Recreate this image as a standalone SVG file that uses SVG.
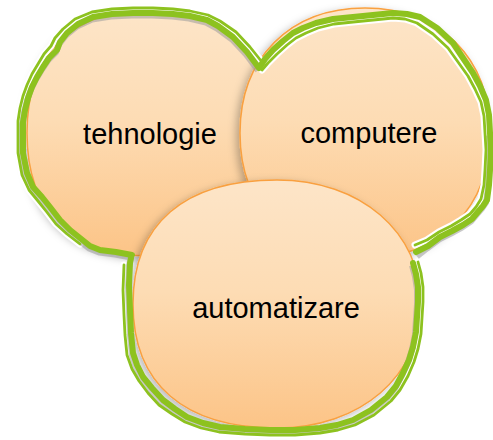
<svg xmlns="http://www.w3.org/2000/svg" width="493" height="440" viewBox="0 0 493 440">
<style>
.c{fill:url(#g);stroke:#F9A03F;stroke-width:1.5;filter:url(#sh)}
.t{font-family:"Liberation Sans",Arial,sans-serif;font-size:29px;fill:#000;text-anchor:middle}
.thick{fill:none;stroke:#8DC21F;stroke-width:6;stroke-linejoin:round;stroke-linecap:round}
.thin{fill:none;stroke:#8DC21F;stroke-width:2.8;stroke-linejoin:round;stroke-linecap:round}
.case{fill:none;stroke:#fff;stroke-width:7;stroke-linejoin:round;stroke-linecap:round}
.shade{fill:none;stroke:#9a9a9a;stroke-width:6;stroke-opacity:.55;stroke-linejoin:round}
</style>
<defs>
<linearGradient id="g" x1="0" y1="0" x2="0" y2="1">
<stop offset="0" stop-color="#FDE5C8"/>
<stop offset="0.45" stop-color="#FDDCB4"/>
<stop offset="1" stop-color="#FCC487"/>
</linearGradient>
<filter id="sh" x="-10%" y="-10%" width="120%" height="120%">
<feDropShadow dx="-3" dy="3" stdDeviation="4" flood-color="#000" flood-opacity="0.28"/>
</filter>
</defs>
<rect width="493" height="440" fill="#fff"/>
<g id="node-tehnologie">
<path class="c" d="M 273,133 C 273,211.7 228.7,256 150,256 C 71.3,256 27,211.7 27,133 C 27,54.3 71.3,10 150,10 C 228.7,10 273,54.3 273,133 Z"/>
<text class="t" x="150" y="144">tehnologie</text>
</g>
<g id="node-computere">
<path class="c" d="M 490,133 C 490,208 440,258 365,258 C 290,258 240,208 240,133 C 240,58 290,8 365,8 C 440,8 490,58 490,133 Z"/>
<text class="t" x="369" y="143">computere</text>
</g>
<g id="node-automatizare">
<path class="c" d="M 421,304 C 421,376 360.5,428 277,428 C 184,428 133,384 133,304 C 133,224 184,180 277,180 C 360.5,180 421,232 421,304 Z"/>
<text class="t" x="276" y="318">automatizare</text>
</g>
<g id="outline">
<path class="case" d="M 262,62 L 250,47 L 236,32 L 220,21 L 208,15 L 190,11 L 173,9 L 153,8 L 133,8 L 112,9 L 92,12 L 75,19 L 63,29 L 55,38 L 51,46 L 44,54 L 38,64 L 32,74 L 27,85 L 23,96 L 20,108 L 18,121 L 18,133 L 18,153 L 20,164 L 22,175 L 29,190 L 38,201 L 46,211 L 56,224 L 67,234 L 80,244 M 124,265 L 123,290 L 124,315 L 125,335 L 127,355 L 132,369 L 139,381 L 148,393 L 159,405 L 172,414 L 185,422 L 201,428 L 219,432 L 245,434 L 270,435 L 295,435 L 320,433 L 338,430 L 355,425 L 374,415 L 391,401 L 400,390 L 408,376 L 414,362 L 418,349 L 421,334 L 422,318 L 423,302 L 423,287 L 421,273 L 418,262 M 415,245 L 427,240 L 439,232 L 451,226 L 461,220 L 470,214 L 476,207 L 481,199 L 484,185 L 485,170 L 486,150 L 485,133 L 484,116 L 481,102 L 475,89 L 468,76 L 458,62 L 448,48 L 433,34 L 417,23 L 405,19 L 393,18 L 373,20 L 353,22 L 334,24 L 318,28 L 306,33 L 296,38 L 287,45 L 277,54 L 268,63 L 262,70"/>
<path class="shade" transform="translate(-1,2.5)" d="M 259,68 L 247,52 L 233,37 L 218,26 L 207,20 L 190,16 L 173,14 L 153,13 L 133,13 L 112,14 L 93,17 L 78,24 L 67,33 L 60,42 L 57,50 L 49,58 L 43,67 L 37,77 L 32,87 L 28,98 L 25,110 L 23,122 L 23,133 L 23,153 L 25,163 L 27,173 L 33,187 L 42,197 L 50,207 L 60,220 L 70,230 L 80,238 L 90,246 L 100,250 L 116,252 L 132,255 L 130,263 L 129,285 L 130,310 L 131,333 L 133,353 L 137,365 L 143,377 L 152,388 L 163,400 L 175,409 L 187,417 L 203,423 L 220,427 L 245,429 L 270,430 L 295,430 L 320,428 L 337,425 L 353,420 L 371,410 L 387,397 L 396,386 L 403,373 L 409,360 L 413,347 L 416,332 L 417,317 L 418,302 L 418,287 L 416,274 L 413,263 M 418,254 L 428,246 L 440,237 L 452,231 L 463,225 L 472,219 L 477,213 L 483,206 L 487,200 L 489,185 L 490,170 L 491,150 L 490,133"/>
<path class="thick" d="M 259,68 L 247,52 L 233,37 L 218,26 L 207,20 L 190,16 L 173,14 L 153,13 L 133,13 L 112,14 L 93,17 L 78,24 L 67,33 L 60,42 L 57,50 L 49,58 L 43,67 L 37,77 L 32,87 L 28,98 L 25,110 L 23,122 L 23,133 L 23,153 L 25,163 L 27,173 L 33,187 L 42,197 L 50,207 L 60,220 L 70,230 L 80,238 L 90,246 L 100,250 L 116,252 L 132,255 M 131,258 L 130,263 L 129,285 L 130,310 L 131,333 L 133,353 L 137,365 L 143,377 L 152,388 L 163,400 L 175,409 L 187,417 L 203,423 L 220,427 L 245,429 L 270,430 L 295,430 L 320,428 L 337,425 L 353,420 L 371,410 L 387,397 L 396,386 L 403,373 L 409,360 L 413,347 L 416,332 L 417,317 L 418,302 L 418,287 L 416,274 L 413,263 M 416,252 L 428,246 L 440,237 L 452,231 L 463,225 L 472,219 L 477,213 L 483,206 L 487,200 L 489,185 L 490,170 L 491,150 L 490,133 L 489,115 L 486,100 L 480,86 L 473,73 L 463,58 L 453,43 L 437,28 L 420,17 L 407,14 L 393,13 L 373,15 L 353,17 L 333,19 L 316,23 L 303,28 L 293,33 L 283,41 L 273,50 L 265,59 L 259,68"/>
<path class="thin" d="M 262,62 L 250,47 L 236,32 L 220,21 L 208,15 L 190,11 L 173,9 L 153,8 L 133,8 L 112,9 L 92,12 L 75,19 L 63,29 L 55,38 L 51,46 L 44,54 L 38,64 L 32,74 L 27,85 L 23,96 L 20,108 L 18,121 L 18,133 L 18,153 L 20,164 L 22,175 L 29,190 L 38,201 L 46,211 L 56,224 L 67,234 L 80,244 M 124,265 L 123,290 L 124,315 L 125,335 L 127,355 L 132,369 L 139,381 L 148,393 L 159,405 L 172,414 L 185,422 L 201,428 L 219,432 L 245,434 L 270,435 L 295,435 L 320,433 L 338,430 L 355,425 L 374,415 L 391,401 L 400,390 L 408,376 L 414,362 L 418,349 L 421,334 L 422,318 L 423,302 L 423,287 L 421,273 L 418,262 M 415,245 L 427,240 L 439,232 L 451,226 L 461,220 L 470,214 L 476,207 L 481,199 L 484,185 L 485,170 L 486,150 L 485,133 L 484,116 L 481,102 L 475,89 L 468,76 L 458,62 L 448,48 L 433,34 L 417,23 L 405,19 L 393,18 L 373,20 L 353,22 L 334,24 L 318,28 L 306,33 L 296,38 L 287,45 L 277,54 L 268,63 L 262,70"/>
</g>
</svg>
